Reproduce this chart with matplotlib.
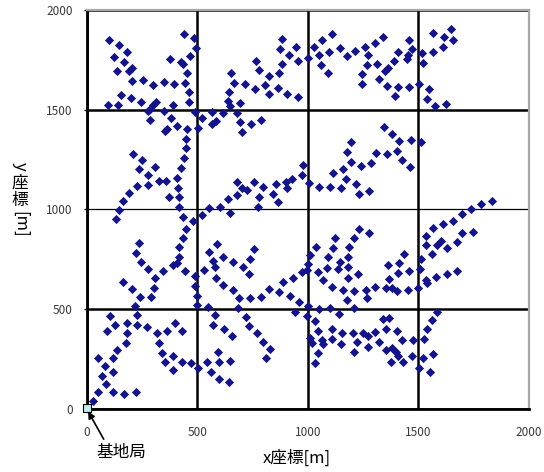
import matplotlib
matplotlib.use("Agg")
import matplotlib.pyplot as plt
import numpy as np

plt.rcParams['font.family'] = ['Noto Sans CJK JP', 'DejaVu Sans']

# 端末位置 (読み取り値, 単位 m), 画面の 3x3 区画ごと
x_nw = [102,148,184,124,170,136,190,207,205,253,300,348,397,446,375,425,437,469,494,485,
        439,452,461,464,490,154,200,96,140,247,314,301,286,276,348,392,383,285,407,365,
        353,455,449,505,523,565,585,568,615]
y_nw = [1851,1824,1791,1763,1741,1694,1696,1711,1646,1647,1626,1637,1627,1634,1753,1738,1728,1768,1808,1860,
        1878,1684,1587,1537,1490,1574,1557,1525,1525,1537,1540,1524,1504,1494,1495,1525,1460,1447,1418,1403,
        1395,1403,1353,1410,1457,1487,1442,1430,1482]
x_n = [653,668,644,638,647,680,694,694,704,742,787,716,762,805,825,780,766,826,867,872,
       885,908,956,956,915,949,876,885,1003,1028,1053,1066,1108,1098,1060,1093,1146,1176,1214,1259,
       1271,1267,1244,1244]
y_n = [1682,1634,1587,1544,1517,1484,1532,1437,1387,1428,1447,1631,1602,1624,1669,1697,1744,1579,1607,1686,
       1731,1580,1564,1744,1774,1813,1804,1855,1761,1816,1774,1851,1878,1791,1724,1686,1809,1769,1794,1816,
       1774,1724,1679,1629]
x_ne = [1305,1342,1315,1324,1350,1365,1357,1395,1410,1391,1410,1460,1470,1455,1448,1458,1505,1550,1541,1578,
        1626,1516,1523,1565,1569,1611,1617,1647,1659,1345,1380]
y_ne = [1836,1866,1728,1654,1694,1707,1619,1570,1616,1744,1791,1851,1803,1774,1754,1616,1627,1604,1554,1519,
        1530,1786,1733,1791,1886,1816,1866,1905,1848,1415,1377]
x_w = [449,442,425,410,208,252,238,279,309,326,359,279,229,193,166,146,133,413,371,419,
       418,437,482,449,434,419,419,407,389,235,223,244,523,555,603,588,555,615,573,580]
y_w = [1307,1257,1207,1160,1277,1248,1202,1173,1213,1143,1143,1123,1119,1085,1044,998,951,1110,1061,1061,
       1011,964,943,902,856,810,760,730,722,834,782,739,973,1009,1011,826,789,764,744,714]
x_c = [638,647,679,680,701,724,758,799,781,777,841,855,867,902,905,930,973,980,1006,1051,
       1101,1113,1151,1161,1172,1196,1179,1196,1217,1232,1240,1277,1286,663,709,739,755,1010,1036,1003,
       1090,1116,1123,1146,1187,1181,1211,1232,1277,1184]
y_c = [1051,984,1073,1140,1110,1098,1136,1111,1063,1013,1078,1126,1036,1140,1106,1151,1173,1223,1135,1115,
       1115,1185,1106,1202,1153,1240,1287,1337,1126,1080,1220,1095,1232,739,714,752,802,772,814,725,
       764,809,859,739,814,764,859,902,881,714]
x_e = [1415,1466,1513,1309,1357,1406,1428,1463,1832,1784,1737,1697,1659,1614,1566,1535,1535,1584,1603,1629,
       1674,1697,1746,1561,1513,1437,1365,1413]
y_e = [1344,1349,1337,1282,1277,1293,1248,1212,1044,1026,1003,976,943,926,906,869,822,822,842,809,
       836,881,889,775,752,775,722,730]
x_sw = [279,347,445,490,531,309,166,206,241,289,304,490,500,500,585,618,550,580,573,621,
        218,229,105,128,181,229,90,184,274,317,365,400,433,329,339,389,354,389,430,470,
        505,546,596,600,561,600,178,139,117,53,83,117,68,87,53,30,120,170,221]
y_sw = [702,692,692,668,697,658,635,602,563,560,608,618,568,521,658,622,513,471,421,401,
        518,471,468,421,430,421,393,379,409,379,393,430,391,329,282,267,234,196,234,232,
        204,234,284,237,184,150,329,296,254,254,217,184,167,124,87,40,87,74,84]
x_s = [734,663,689,739,789,825,870,890,935,976,995,1048,1089,1136,1184,1229,1071,1111,1161,1211,
       1176,1211,1262,1267,920,961,1003,1051,1101,1142,683,719,734,769,799,829,810,659,647,644,
       942,995,1033,1045,1010,1021,1063,1071,1108,1108,1154,1151,1206,1221,1211,1252,1271,1271,1048,1033]
y_s = [675,597,555,558,563,600,585,635,658,685,698,688,709,702,658,675,647,613,597,592,
       546,508,597,558,568,538,518,501,508,476,505,463,418,379,338,301,254,368,241,134,
       488,468,441,391,358,329,346,324,401,351,379,324,379,334,288,379,368,313,279,229]
x_se = [1460,1508,1410,1369,1305,1354,1380,1403,1455,1501,1535,1541,1581,1629,1677,1342,1369,1354,1403,1305,
        1324,1425,1475,1526,1541,1561,1587,1354,1380,1400,1410,1375,1433,1470,1520,1569,1505,1553]
y_se = [692,702,680,652,613,605,605,592,597,605,647,630,663,677,692,451,455,401,393,388,
        334,346,346,351,401,446,488,296,304,284,267,234,234,267,257,274,207,187]

base_x = [0]
base_y = [5]
ticks = [0, 500, 1000, 1500, 2000]

xs = np.concatenate([x_nw, x_n, x_ne, x_w, x_c, x_e, x_sw, x_s, x_se])
ys = np.concatenate([y_nw, y_n, y_ne, y_w, y_c, y_e, y_sw, y_s, y_se])

fig = plt.figure(figsize=(5.44, 4.72), dpi=100)
ax = fig.add_axes([0.1594, 0.1335, 0.8125, 0.8453])

ax.set_xlim(0, 2000)
ax.set_ylim(0, 2000)
ax.set_xticks(ticks)
ax.set_yticks(ticks)
ax.grid(True, color='black', linewidth=1.8)
ax.get_ygridlines()[2].set_linewidth(0.9)
ax.set_axisbelow(True)

ax.scatter(xs, ys, marker='D', s=22, color='#13138c', linewidths=0, zorder=3)
ax.scatter(base_x, base_y, marker='s', s=30, facecolor='#bfeef0', edgecolor='black',
           linewidths=0.8, zorder=4, clip_on=False)

for side in ['left', 'bottom']:
    ax.spines[side].set_linewidth(2)
    ax.spines[side].set_color('black')
for side in ['top', 'right']:
    ax.spines[side].set_linewidth(1.6)
    ax.spines[side].set_color('#a8a8a8')

ax.tick_params(axis='both', length=2, width=1, labelsize=8.5, labelcolor='#3a3a3a')
ax.tick_params(axis='x', pad=12, length=0)
ax.tick_params(axis='y', pad=8)

ax.annotate('基地局', xy=(0, 0), xytext=(45, -220), textcoords='data',
            fontsize=12, ha='left', va='center', annotation_clip=False,
            arrowprops=dict(arrowstyle='-|>', color='black', lw=1.2,
                            mutation_scale=10, relpos=(0.2, 1.0), shrinkB=2))

fig.text(297 / 544, 1 - 458 / 472, 'x座標[m]', fontsize=12, ha='center', va='center')

# 縦書きの y 軸ラベル
fig.text(20 / 544, 1 - 166 / 472, 'y', fontsize=12, ha='center', va='center', rotation=-90)
fig.text(20 / 544, 1 - 183 / 472, '座', fontsize=12, ha='center', va='center')
fig.text(20 / 544, 1 - 201 / 472, '標', fontsize=12, ha='center', va='center')
fig.text(20 / 544, 1 - 224 / 472, '[m]', fontsize=12, ha='center', va='center', rotation=-90)

fig.savefig('out.png', dpi=100)
